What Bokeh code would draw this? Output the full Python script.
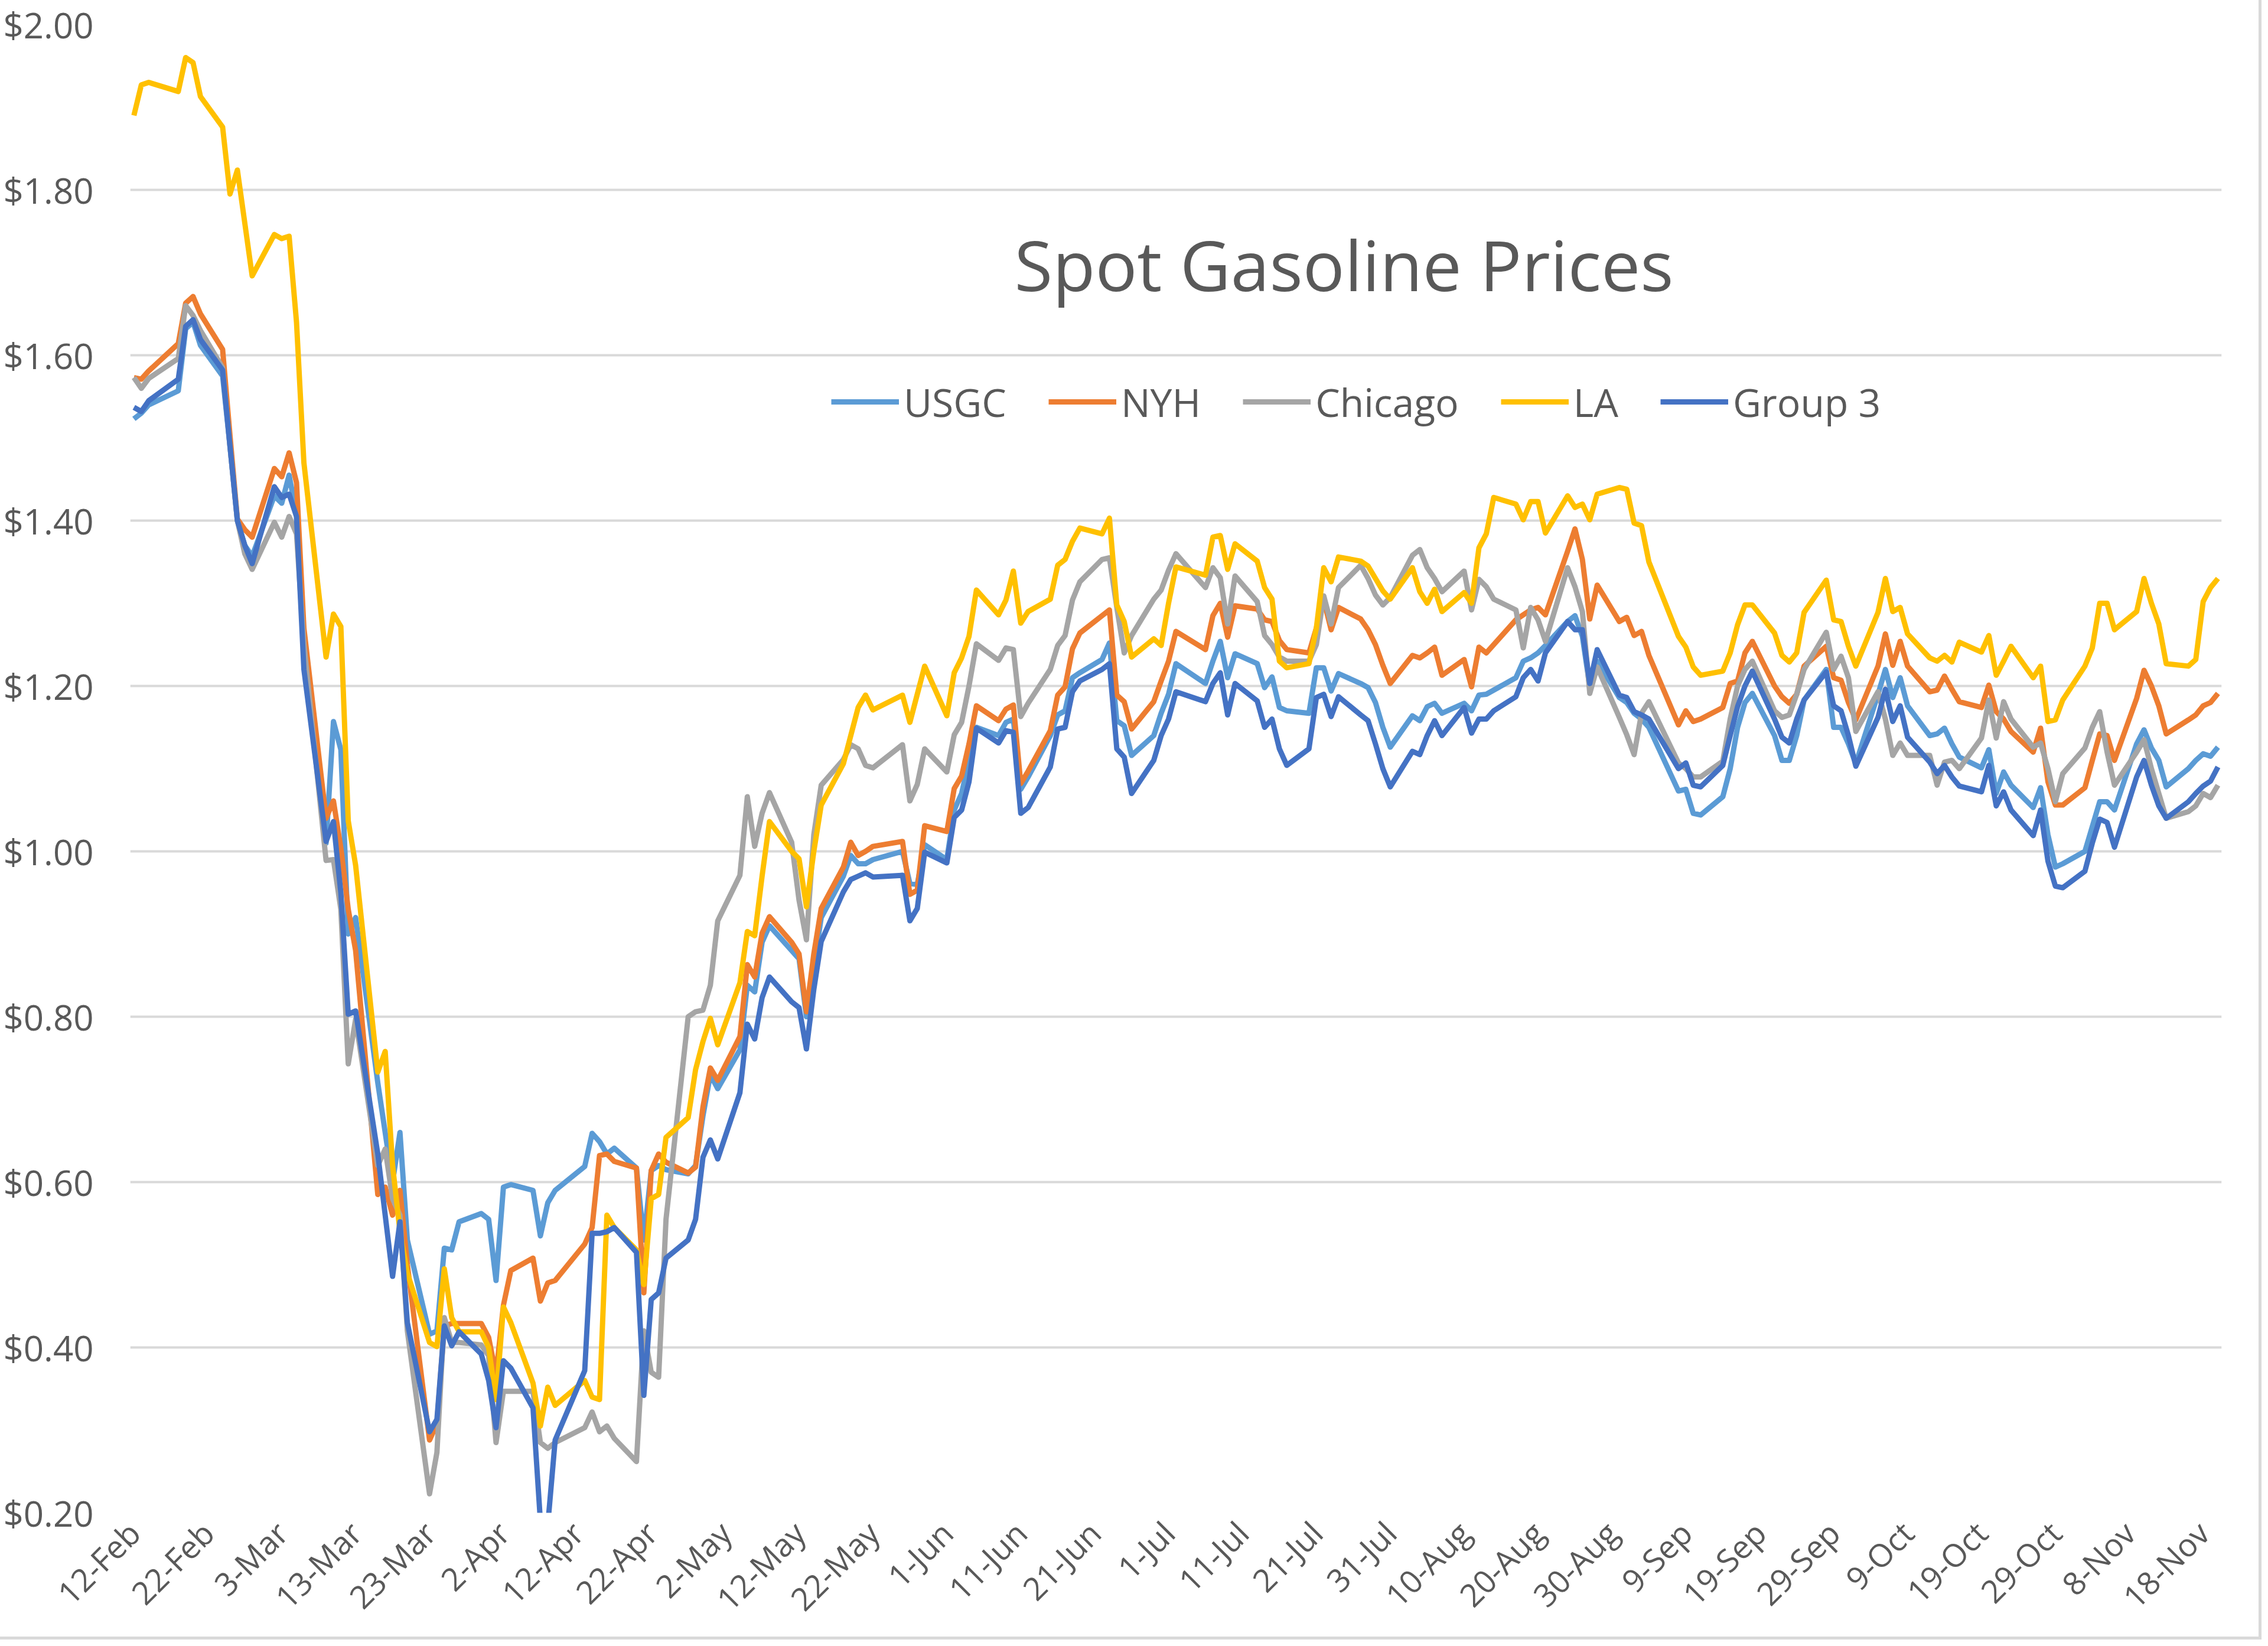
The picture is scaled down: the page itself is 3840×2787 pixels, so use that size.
import pandas as pd
from bokeh.plotting import figure
from bokeh.models import Range1d, FixedTicker, NumeralTickFormatter, DatetimeTickFormatter, Legend, LegendItem, Label, ColumnDataSource
from bokeh.embed import file_html
from bokeh.resources import INLINE
import math

dates = [
    "2020-02-12", "2020-02-13", "2020-02-14", "2020-02-18", "2020-02-19", "2020-02-20", "2020-02-21", "2020-02-24", "2020-02-25", "2020-02-26", "2020-02-27", "2020-02-28",
    "2020-03-02", "2020-03-03", "2020-03-04", "2020-03-05", "2020-03-06", "2020-03-09", "2020-03-10", "2020-03-11", "2020-03-12", "2020-03-13", "2020-03-16", "2020-03-17", "2020-03-18", "2020-03-19", "2020-03-20", "2020-03-23", "2020-03-24", "2020-03-25", "2020-03-26", "2020-03-27", "2020-03-30", "2020-03-31",
    "2020-04-01", "2020-04-02", "2020-04-03", "2020-04-06", "2020-04-07", "2020-04-08", "2020-04-09", "2020-04-13", "2020-04-14", "2020-04-15", "2020-04-16", "2020-04-17", "2020-04-20", "2020-04-21", "2020-04-22", "2020-04-23", "2020-04-24", "2020-04-27", "2020-04-28", "2020-04-29", "2020-04-30",
    "2020-05-01", "2020-05-04", "2020-05-05", "2020-05-06", "2020-05-07", "2020-05-08", "2020-05-11", "2020-05-12", "2020-05-13", "2020-05-14", "2020-05-15", "2020-05-18", "2020-05-19", "2020-05-20", "2020-05-21", "2020-05-22", "2020-05-26", "2020-05-27", "2020-05-28", "2020-05-29",
    "2020-06-01", "2020-06-02", "2020-06-03", "2020-06-04", "2020-06-05", "2020-06-08", "2020-06-09", "2020-06-10", "2020-06-11", "2020-06-12", "2020-06-15", "2020-06-16", "2020-06-17", "2020-06-18", "2020-06-19", "2020-06-22", "2020-06-23", "2020-06-24", "2020-06-25", "2020-06-26", "2020-06-29", "2020-06-30",
    "2020-07-01", "2020-07-02", "2020-07-06", "2020-07-07", "2020-07-08", "2020-07-09", "2020-07-10", "2020-07-13", "2020-07-14", "2020-07-15", "2020-07-16", "2020-07-17", "2020-07-20", "2020-07-21", "2020-07-22", "2020-07-23", "2020-07-24", "2020-07-27", "2020-07-28", "2020-07-29", "2020-07-30", "2020-07-31",
    "2020-08-03", "2020-08-04", "2020-08-05", "2020-08-06", "2020-08-07", "2020-08-10", "2020-08-11", "2020-08-12", "2020-08-13", "2020-08-14", "2020-08-17", "2020-08-18", "2020-08-19", "2020-08-20", "2020-08-21", "2020-08-24", "2020-08-25", "2020-08-26", "2020-08-27", "2020-08-28", "2020-08-31",
    "2020-09-01", "2020-09-02", "2020-09-03", "2020-09-04", "2020-09-08", "2020-09-09", "2020-09-10", "2020-09-11", "2020-09-14", "2020-09-15", "2020-09-16", "2020-09-17", "2020-09-18", "2020-09-21", "2020-09-22", "2020-09-23", "2020-09-24", "2020-09-25", "2020-09-28", "2020-09-29", "2020-09-30",
    "2020-10-01", "2020-10-02", "2020-10-05", "2020-10-06", "2020-10-07", "2020-10-08", "2020-10-09", "2020-10-12", "2020-10-13", "2020-10-14", "2020-10-15", "2020-10-16", "2020-10-19", "2020-10-20", "2020-10-21", "2020-10-22", "2020-10-23", "2020-10-26", "2020-10-27", "2020-10-28", "2020-10-29", "2020-10-30",
    "2020-11-02", "2020-11-03", "2020-11-04", "2020-11-05", "2020-11-06", "2020-11-09", "2020-11-10", "2020-11-11", "2020-11-12", "2020-11-13", "2020-11-16", "2020-11-17", "2020-11-18", "2020-11-19", "2020-11-20",
]

usgc = [
    1.523, 1.530, 1.540, 1.557, 1.632, 1.640, 1.612, 1.575, 1.490, 1.400, 1.370, 1.357,
    1.430, 1.421, 1.455, 1.407, 1.240, 1.010, 1.157, 1.123, 0.900, 0.920, 0.720, 0.660, 0.600, 0.660, 0.530, 0.416, 0.420, 0.520, 0.518, 0.552, 0.562, 0.555,
    0.481, 0.594, 0.597, 0.590, 0.535, 0.575, 0.590, 0.619, 0.659, 0.649, 0.634, 0.641, 0.617, 0.530, 0.614, 0.620, 0.615, 0.610, 0.620, 0.680, 0.730,
    0.713, 0.760, 0.838, 0.830, 0.890, 0.910, 0.880, 0.870, 0.800, 0.860, 0.920, 0.970, 0.995, 0.985, 0.985, 0.990, 1.000, 0.961, 0.960, 1.008,
    0.990, 1.050, 1.070, 1.110, 1.150, 1.140, 1.156, 1.160, 1.075, 1.090, 1.140, 1.165, 1.170, 1.210, 1.216, 1.232, 1.252, 1.158, 1.152, 1.116, 1.140, 1.167,
    1.190, 1.227, 1.203, 1.230, 1.254, 1.210, 1.239, 1.227, 1.198, 1.211, 1.174, 1.170, 1.167, 1.222, 1.222, 1.194, 1.215, 1.203, 1.198, 1.180, 1.150, 1.126,
    1.164, 1.158, 1.175, 1.179, 1.167, 1.179, 1.170, 1.189, 1.190, 1.195, 1.210, 1.230, 1.234, 1.240, 1.249, 1.278, 1.285, 1.260, 1.199, 1.230, 1.186,
    1.180, 1.167, 1.160, 1.150, 1.073, 1.075, 1.046, 1.044, 1.066, 1.100, 1.150, 1.180, 1.191, 1.140, 1.110, 1.110, 1.140, 1.183, 1.220, 1.150, 1.150,
    1.130, 1.106, 1.190, 1.220, 1.186, 1.210, 1.176, 1.140, 1.142, 1.149, 1.130, 1.114, 1.101, 1.123, 1.070, 1.096, 1.080, 1.053, 1.077, 1.020, 0.981, 0.985,
    1.000, 1.030, 1.060, 1.060, 1.050, 1.130, 1.147, 1.125, 1.110, 1.078, 1.100, 1.110, 1.118, 1.115, 1.126,
]

nyh = [
    1.573, 1.571, 1.581, 1.614, 1.663, 1.671, 1.650, 1.607, 1.503, 1.402, 1.389, 1.380,
    1.463, 1.453, 1.482, 1.446, 1.270, 1.040, 1.061, 1.004, 0.930, 0.880, 0.585, 0.594, 0.560, 0.590, 0.500, 0.288, 0.308, 0.426, 0.429, 0.429, 0.429, 0.412,
    0.367, 0.451, 0.493, 0.508, 0.456, 0.478, 0.481, 0.525, 0.545, 0.632, 0.634, 0.625, 0.617, 0.466, 0.614, 0.634, 0.624, 0.611, 0.618, 0.691, 0.738,
    0.723, 0.776, 0.863, 0.848, 0.901, 0.921, 0.890, 0.876, 0.806, 0.876, 0.931, 0.981, 1.011, 0.995, 1.000, 1.006, 1.012, 0.948, 0.953, 1.031,
    1.024, 1.076, 1.091, 1.130, 1.176, 1.158, 1.172, 1.177, 1.082, 1.097, 1.146, 1.189, 1.199, 1.245, 1.264, 1.285, 1.292, 1.189, 1.181, 1.148, 1.181, 1.206,
    1.230, 1.266, 1.244, 1.285, 1.300, 1.259, 1.297, 1.293, 1.280, 1.278, 1.255, 1.244, 1.240, 1.270, 1.304, 1.268, 1.295, 1.281, 1.268, 1.250, 1.225, 1.203,
    1.237, 1.234, 1.240, 1.247, 1.213, 1.232, 1.199, 1.247, 1.240, 1.250, 1.280, 1.286, 1.292, 1.295, 1.286, 1.363, 1.390, 1.353, 1.281, 1.322, 1.278,
    1.283, 1.261, 1.266, 1.237, 1.153, 1.170, 1.157, 1.160, 1.174, 1.203, 1.206, 1.240, 1.254, 1.200, 1.187, 1.179, 1.190, 1.224, 1.248, 1.210, 1.207,
    1.180, 1.159, 1.224, 1.263, 1.225, 1.254, 1.224, 1.193, 1.195, 1.212, 1.196, 1.181, 1.174, 1.201, 1.169, 1.160, 1.145, 1.120, 1.149, 1.084, 1.056, 1.056,
    1.077, 1.110, 1.142, 1.140, 1.110, 1.185, 1.219, 1.200, 1.176, 1.142, 1.159, 1.165, 1.176, 1.180, 1.191,
]

chicago = [
    1.573, 1.560, 1.572, 1.596, 1.660, 1.648, 1.630, 1.585, 1.490, 1.400, 1.360, 1.341,
    1.398, 1.380, 1.405, 1.384, 1.250, 0.989, 0.990, 0.930, 0.743, 0.797, 0.620, 0.640, 0.580, 0.560, 0.420, 0.223, 0.273, 0.436, 0.406, 0.406, 0.403, 0.390,
    0.285, 0.347, 0.347, 0.347, 0.285, 0.278, 0.285, 0.303, 0.322, 0.298, 0.305, 0.290, 0.262, 0.420, 0.370, 0.364, 0.555, 0.800, 0.806, 0.808, 0.838,
    0.916, 0.971, 1.066, 1.006, 1.046, 1.071, 1.011, 0.941, 0.893, 1.020, 1.080, 1.111, 1.129, 1.124, 1.104, 1.101, 1.129, 1.061, 1.081, 1.124,
    1.096, 1.141, 1.156, 1.200, 1.251, 1.231, 1.246, 1.244, 1.163, 1.179, 1.220, 1.249, 1.261, 1.304, 1.326, 1.353, 1.355, 1.295, 1.240, 1.261, 1.305, 1.316,
    1.340, 1.360, 1.319, 1.343, 1.331, 1.275, 1.333, 1.302, 1.261, 1.250, 1.235, 1.230, 1.230, 1.250, 1.309, 1.275, 1.319, 1.346, 1.330, 1.310, 1.298, 1.307,
    1.358, 1.365, 1.343, 1.330, 1.314, 1.339, 1.292, 1.329, 1.320, 1.305, 1.292, 1.246, 1.295, 1.280, 1.254, 1.343, 1.320, 1.290, 1.191, 1.223, 1.162,
    1.141, 1.117, 1.167, 1.181, 1.107, 1.100, 1.090, 1.090, 1.109, 1.160, 1.200, 1.220, 1.230, 1.170, 1.162, 1.165, 1.190, 1.220, 1.265, 1.220, 1.236,
    1.210, 1.145, 1.193, 1.160, 1.116, 1.131, 1.116, 1.116, 1.080, 1.108, 1.110, 1.100, 1.137, 1.183, 1.137, 1.181, 1.160, 1.126, 1.131, 1.100, 1.060, 1.094,
    1.125, 1.150, 1.169, 1.120, 1.080, 1.120, 1.135, 1.100, 1.070, 1.040, 1.048, 1.055, 1.070, 1.065, 1.080,
]

la = [
    1.890, 1.927, 1.930, 1.919, 1.960, 1.954, 1.913, 1.876, 1.795, 1.824, 1.760, 1.696,
    1.746, 1.741, 1.744, 1.640, 1.470, 1.235, 1.287, 1.272, 1.037, 0.983, 0.733, 0.758, 0.620, 0.540, 0.490, 0.406, 0.401, 0.495, 0.436, 0.419, 0.419, 0.400,
    0.337, 0.449, 0.430, 0.357, 0.305, 0.352, 0.330, 0.360, 0.340, 0.337, 0.560, 0.545, 0.518, 0.476, 0.580, 0.585, 0.654, 0.678, 0.736, 0.770, 0.798,
    0.766, 0.841, 0.903, 0.898, 0.970, 1.036, 1.000, 0.991, 0.933, 1.000, 1.056, 1.106, 1.140, 1.174, 1.189, 1.171, 1.189, 1.156, 1.190, 1.224,
    1.164, 1.216, 1.234, 1.260, 1.316, 1.286, 1.304, 1.339, 1.276, 1.290, 1.305, 1.346, 1.353, 1.375, 1.391, 1.384, 1.403, 1.298, 1.278, 1.235, 1.257, 1.249,
    1.300, 1.344, 1.334, 1.380, 1.382, 1.341, 1.372, 1.351, 1.319, 1.305, 1.230, 1.222, 1.227, 1.270, 1.343, 1.326, 1.356, 1.351, 1.345, 1.330, 1.315, 1.305,
    1.343, 1.314, 1.300, 1.317, 1.290, 1.313, 1.300, 1.367, 1.384, 1.428, 1.420, 1.401, 1.423, 1.423, 1.385, 1.430, 1.416, 1.420, 1.401, 1.432, 1.440,
    1.438, 1.397, 1.394, 1.350, 1.260, 1.247, 1.223, 1.213, 1.218, 1.240, 1.274, 1.298, 1.298, 1.264, 1.237, 1.229, 1.240, 1.289, 1.328, 1.280, 1.278,
    1.248, 1.224, 1.289, 1.330, 1.290, 1.295, 1.263, 1.234, 1.230, 1.237, 1.229, 1.253, 1.241, 1.261, 1.213, 1.230, 1.248, 1.210, 1.224, 1.157, 1.159, 1.183,
    1.224, 1.246, 1.300, 1.300, 1.268, 1.290, 1.330, 1.300, 1.275, 1.227, 1.224, 1.232, 1.302, 1.319, 1.330,
]

group3 = [
    1.537, 1.532, 1.545, 1.571, 1.635, 1.643, 1.619, 1.582, 1.490, 1.400, 1.370, 1.348,
    1.441, 1.428, 1.432, 1.405, 1.220, 1.012, 1.036, 0.950, 0.803, 0.807, 0.634, 0.560, 0.486, 0.552, 0.430, 0.298, 0.313, 0.426, 0.402, 0.419, 0.392, 0.360,
    0.303, 0.384, 0.375, 0.327, 0.190, 0.185, 0.288, 0.372, 0.538, 0.538, 0.540, 0.545, 0.515, 0.342, 0.458, 0.466, 0.508, 0.530, 0.555, 0.630, 0.651,
    0.628, 0.708, 0.791, 0.773, 0.823, 0.848, 0.818, 0.811, 0.761, 0.833, 0.891, 0.951, 0.966, 0.970, 0.974, 0.969, 0.971, 0.916, 0.931, 0.999,
    0.986, 1.041, 1.050, 1.084, 1.149, 1.131, 1.146, 1.144, 1.046, 1.053, 1.102, 1.148, 1.150, 1.193, 1.206, 1.220, 1.227, 1.124, 1.114, 1.070, 1.110, 1.140,
    1.160, 1.193, 1.181, 1.203, 1.216, 1.165, 1.203, 1.182, 1.150, 1.160, 1.124, 1.104, 1.124, 1.186, 1.190, 1.163, 1.187, 1.165, 1.158, 1.130, 1.100, 1.078,
    1.121, 1.117, 1.140, 1.158, 1.140, 1.174, 1.143, 1.160, 1.160, 1.170, 1.187, 1.210, 1.220, 1.206, 1.240, 1.278, 1.268, 1.268, 1.203, 1.244, 1.189,
    1.186, 1.169, 1.165, 1.160, 1.100, 1.107, 1.080, 1.078, 1.104, 1.140, 1.175, 1.200, 1.218, 1.160, 1.138, 1.131, 1.160, 1.183, 1.217, 1.176, 1.170,
    1.140, 1.103, 1.162, 1.196, 1.157, 1.176, 1.138, 1.108, 1.094, 1.104, 1.090, 1.079, 1.072, 1.104, 1.055, 1.072, 1.050, 1.019, 1.050, 0.988, 0.958, 0.956,
    0.976, 1.010, 1.039, 1.035, 1.005, 1.090, 1.110, 1.080, 1.055, 1.040, 1.060, 1.070, 1.079, 1.085, 1.102,
]

series_names = ["USGC", "NYH", "Chicago", "LA", "Group 3"]
series_colors = ["#5B9BD5", "#ED7D31", "#A5A5A5", "#FFC000", "#4472C4"]
series_values = [usgc, nyh, chicago, la, group3]

tick_labels = ["12-Feb", "22-Feb", "3-Mar", "13-Mar", "23-Mar", "2-Apr", "12-Apr", "22-Apr", "2-May",
               "12-May", "22-May", "1-Jun", "11-Jun", "21-Jun", "1-Jul", "11-Jul", "21-Jul", "31-Jul",
               "10-Aug", "20-Aug", "30-Aug", "9-Sep", "19-Sep", "29-Sep", "9-Oct", "19-Oct", "29-Oct",
               "8-Nov", "18-Nov"]
y_ticks = [0.2, 0.4, 0.6, 0.8, 1.0, 1.2, 1.4, 1.6, 1.8, 2.0]
title_text = "Spot Gasoline Prices"

TEXT = "#595959"
FONT = "Open Sans"

x = pd.to_datetime(dates)
x_start = x[0] - pd.Timedelta(hours=12)
x_end = x[-1] + pd.Timedelta(hours=12)

p = figure(width=3824, height=2771, x_axis_type="datetime",
           x_range=Range1d(x_start, x_end), y_range=Range1d(y_ticks[0], y_ticks[-1]),
           output_backend="svg", toolbar_location=None,
           min_border_left=220, min_border_right=63, min_border_top=41, min_border_bottom=207)
p.outline_line_color = None
p.background_fill_color = "white"
p.border_fill_color = "white"
p.styles = {"outline": "5px solid #D9D9D9"}

# gridlines
p.xgrid.visible = False
p.ygrid.grid_line_color = "#D9D9D9"
p.ygrid.grid_line_width = 4

# y axis
p.yaxis.ticker = FixedTicker(ticks=y_ticks)
p.yaxis.formatter = NumeralTickFormatter(format="$0.00")
p.yaxis.axis_line_color = None
p.yaxis.major_tick_line_color = None
p.yaxis.minor_tick_line_color = None
p.yaxis.major_tick_out = 0
p.yaxis.major_tick_in = 0
p.yaxis.major_label_standoff = 62
p.yaxis.major_label_text_font = FONT
p.yaxis.major_label_text_font_size = "60px"
p.yaxis.major_label_text_color = TEXT

# x axis
tick_dates = pd.to_datetime([t + "-2020" for t in tick_labels], format="%d-%b-%Y")
tick_ms = [int(t.value // 10**6) for t in tick_dates]
p.xaxis.ticker = FixedTicker(ticks=tick_ms)
p.xaxis.formatter = DatetimeTickFormatter(days="%d-%b", months="%d-%b")
overrides = {}
for ms, lab in zip(tick_ms, tick_labels):
    overrides[ms] = lab
p.xaxis.major_label_overrides = overrides
p.xaxis.major_label_orientation = math.pi / 4
p.xaxis.axis_line_color = None
p.xaxis.major_tick_line_color = None
p.xaxis.minor_tick_line_color = None
p.xaxis.major_tick_out = 0
p.xaxis.major_tick_in = 0
p.xaxis.major_label_standoff = 24
p.xaxis.major_label_text_font = FONT
p.xaxis.major_label_text_font_size = "54px"
p.xaxis.major_label_text_color = TEXT

items = []
for name, color, vals in zip(series_names, series_colors, series_values):
    src = ColumnDataSource(dict(x=x, y=vals))
    r = p.line("x", "y", source=src, line_color=color, line_width=9, line_join="round")
    items.append(LegendItem(label=name, renderers=[r]))

legend = Legend(items=items, orientation="horizontal", location=(1187, 1836),
                label_text_font=FONT, label_text_font_size="66px", label_text_color=TEXT,
                glyph_width=115, glyph_height=60, label_height=60, label_standoff=8,
                spacing=71, padding=0, margin=0, border_line_color=None,
                background_fill_alpha=0)
p.add_layout(legend, "center")

title = Label(x=2055, y=2114, x_units="screen", y_units="screen", text=title_text,
              text_align="center", text_baseline="alphabetic",
              text_font=FONT, text_font_size="118px", text_color=TEXT)
p.add_layout(title)

open("out.html", "w").write(file_html(p, INLINE))
